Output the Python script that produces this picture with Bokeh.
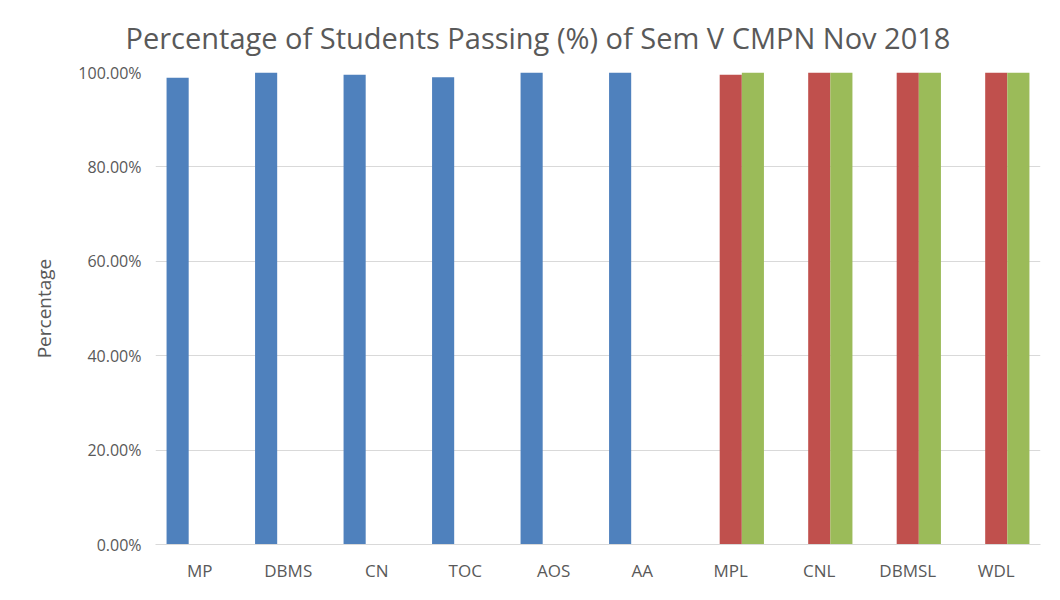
from bokeh.plotting import figure
from bokeh.models import ColumnDataSource, Range1d, NumeralTickFormatter, FixedTicker
from bokeh.transform import dodge
from bokeh.embed import file_html
from bokeh.resources import INLINE

categories = ["MP", "DBMS", "CN", "TOC", "AOS", "AA", "MPL", "CNL", "DBMSL", "WDL"]
theory = [0.989, 1.0, 0.995, 0.990, 1.0, 1.0, None, None, None, None]
practical = [None, None, None, None, None, None, 0.995, 1.0, 1.0, 1.0]
termwork = [None, None, None, None, None, None, 1.0, 1.0, 1.0, 1.0]
y_ticks = [0.0, 0.2, 0.4, 0.6, 0.8, 1.0]
title_text = "Percentage of Students Passing (%) of Sem V CMPN Nov 2018"

series = [
    (theory, -0.25, "#4F81BD"),
    (practical, 0.0, "#C0504D"),
    (termwork, 0.25, "#9BBB59"),
]

FONT = "Open Sans"
TXT = "#595959"

p = figure(x_range=categories, y_range=Range1d(0, 1.0), width=1044, height=584,
           output_backend="svg", toolbar_location=None,
           min_border_left=155, min_border_right=4, min_border_top=72, min_border_bottom=38)

for vals, off, col in series:
    cats = [c for c, v in zip(categories, vals) if v is not None]
    tops = [v for v in vals if v is not None]
    src = ColumnDataSource(dict(cat=cats, top=tops))
    p.vbar(x=dodge("cat", off, range=p.x_range), top="top", bottom=0, width=0.25,
           source=src, fill_color=col, line_color=None)

p.title.text = title_text
p.title.text_font = FONT
p.title.text_font_size = "29px"
p.title.text_font_style = "normal"
p.title.text_color = TXT
p.title.align = "left"
p.title.offset = -30
p.title.standoff = 31

p.outline_line_color = None
p.xgrid.grid_line_color = None
p.ygrid.grid_line_color = "#D9D9D9"
p.ygrid.grid_line_width = 1

p.yaxis.ticker = FixedTicker(ticks=y_ticks)
p.yaxis.formatter = NumeralTickFormatter(format="0.00%")
p.yaxis.axis_line_color = None
p.yaxis.major_tick_line_color = None
p.yaxis.minor_tick_line_color = None
p.yaxis.major_label_text_font = FONT
p.yaxis.major_label_text_font_size = "16px"
p.yaxis.major_label_text_color = TXT
p.yaxis.major_label_standoff = 8
p.yaxis.axis_label = "Percentage"
p.yaxis.axis_label_text_font = FONT
p.yaxis.axis_label_text_font_size = "19px"
p.yaxis.axis_label_text_font_style = "normal"
p.yaxis.axis_label_text_color = TXT
p.yaxis.axis_label_standoff = 18

p.xaxis.axis_line_color = "#D9D9D9"
p.xaxis.major_tick_line_color = None
p.xaxis.minor_tick_line_color = None
p.xaxis.major_label_text_font = FONT
p.xaxis.major_label_text_font_size = "17px"
p.xaxis.major_label_text_color = TXT
p.xaxis.major_label_standoff = 8

open("out.html", "w").write(file_html(p, INLINE))
